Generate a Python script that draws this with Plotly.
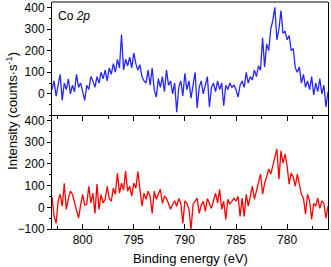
import numpy as np
import plotly.graph_objects as go
from plotly.subplots import make_subplots

# Binding energy grid (eV), high -> low, 0.2 eV steps
e_start, e_end = 803.0, 776.0

top_counts = [20, 60, -10, 40, 90, -30, 50, 20, 70, 0,
              40, 10, 90, 30, 50, 10, -30, 40, 20, 80,
              60, 30, 80, 50, 100, 70, 110, 60, 120, 90,
              140, 100, 160, 120, 275, 110, 160, 130, 170, 120,
              190, 140, 110, 135, 80, 60, 50, 110, 40, 120,
              20, -15, 70, 30, 80, 10, 110, 40, 60, 0,
              50, -85, 30, 60, -10, 95, 20, 60, -20, 40,
              100, -65, 30, 60, 0, 40, 80, -60, 30, 50,
              10, 60, 20, 50, -55, 40, 20, 50, 30, 40,
              20, -15, 40, 60, 30, 100, 50, 80, 65, 110,
              80, 130, 110, 260, 125, 230, 200, 300, 340, 400,
              250, 300, 385, 280, 290, 250, 270, 200, 210, 120,
              100, 125, 50, 90, 30, 60, 20, 80, -5, 50,
              10, 70, 0, 40, -60, 10]

bottom_counts = [50, -40, -74, 30, 60, 5, 110, -10, 40, 75,
                 60, 20, -10, -50, 10, 60, 10, 15, 97, 20,
                 65, -28, 107, -10, 60, 20, 37, 97, 40, 28,
                 88, 60, 158, 65, 111, 80, 167, 74, 97, 51,
                 111, 88, 165, 97, 5, 65, 37, 74, 50, -28,
                 74, 37, 60, 83, 18, 50, 42, 20, -9, 14,
                 30, 5, 40, 18, -74, 30, 18, -9, -102, 14,
                 30, 42, -28, 10, 28, -19, 40, 18, -5, 30,
                 65, 20, 83, -9, 28, -56, 37, 14, 30, 42,
                 28, 51, -42, 42, -42, 60, 5, 50, 97, 37,
                 74, 110, 153, 60, 111, 140, 176, 153, 200, 230,
                 269, 130, 260, 204, 246, 190, 107, 158, 140, 97,
                 153, 107, 60, 42, -32, 60, 30, -56, 18, 5,
                 42, -5, 30, 18, -50, 5]

x_tick_vals = [800, 795, 790, 785, 780]
y_tick_vals_top = [0, 100, 200, 300, 400]
y_tick_vals_bottom = [-100, 0, 100, 200, 300, 400]

x_top = np.linspace(e_start, e_end, len(top_counts))
x_bot = np.linspace(e_start, e_end, len(bottom_counts))

fig = make_subplots(rows=2, cols=1, shared_xaxes=True, vertical_spacing=0)

fig.add_trace(go.Scatter(x=x_top, y=top_counts, mode="lines",
                         line=dict(color="#2626FF", width=1.3), showlegend=False),
              row=1, col=1)
fig.add_trace(go.Scatter(x=x_bot, y=bottom_counts, mode="lines",
                         line=dict(color="#FF0000", width=1.3), showlegend=False),
              row=2, col=1)

fam = "Liberation Sans, Arial, sans-serif"
font = dict(family=fam, size=12, color="black")

fig.update_xaxes(range=[803, 776], showline=False, showgrid=False, zeroline=False,
                 ticks="", showticklabels=False, row=1, col=1)
fig.update_xaxes(range=[803, 776], showline=True, linecolor="black", linewidth=1,
                 mirror="ticks", showgrid=False, zeroline=False,
                 ticks="inside", ticklen=5, tickwidth=1, tickcolor="black",
                 tickvals=x_tick_vals, tickfont=font,
                 minor=dict(ticks="inside", ticklen=3, dtick=2.5, tick0=800,
                            tickcolor="black", tickwidth=1),
                 row=2, col=1)

common_y = dict(showline=True, linecolor="black", linewidth=1, mirror=True,
                showgrid=False, zeroline=False, ticks="outside", ticklen=4,
                tickwidth=1, tickcolor="black", tickfont=font,
                minor=dict(ticks="outside", ticklen=2, dtick=50, tick0=0,
                           tickcolor="black", tickwidth=1))
fig.update_yaxes(**common_y, range=[-100, 425], tickvals=y_tick_vals_top, row=1, col=1)
fig.update_yaxes(**common_y, range=[-100, 423], tickvals=y_tick_vals_bottom, row=2, col=1)

# top border of the upper panel
fig.add_shape(type="line", xref="paper", yref="paper", x0=0, x1=1, y0=1, y1=1,
              line=dict(color="black", width=1))

fig.add_annotation(text="Co <i>2p</i>", xref="paper", yref="paper", x=0.015, y=0.978,
                   xanchor="left", yanchor="top", showarrow=False,
                   font=dict(family=fam, size=12, color="black"))
fig.add_annotation(text="Intensity (counts·s<sup>-1</sup>)", xref="paper", yref="paper",
                   x=-0.145, y=0.52, xanchor="center", yanchor="middle", textangle=-90,
                   showarrow=False, font=dict(family=fam, size=13, color="black"))
fig.add_annotation(text="Binding energy (eV)", xref="paper", yref="paper",
                   x=0.5, y=-0.128, xanchor="center", yanchor="middle", showarrow=False,
                   font=dict(family=fam, size=13, color="black"))

fig.update_layout(width=331, height=267,
                  margin=dict(l=52, r=3, t=2, b=38, autoexpand=False),
                  plot_bgcolor="white", paper_bgcolor="white")

fig.write_html("out.html", config={"displayModeBar": False},
               post_script="document.body.style.margin='0';document.body.style.padding='0';")
